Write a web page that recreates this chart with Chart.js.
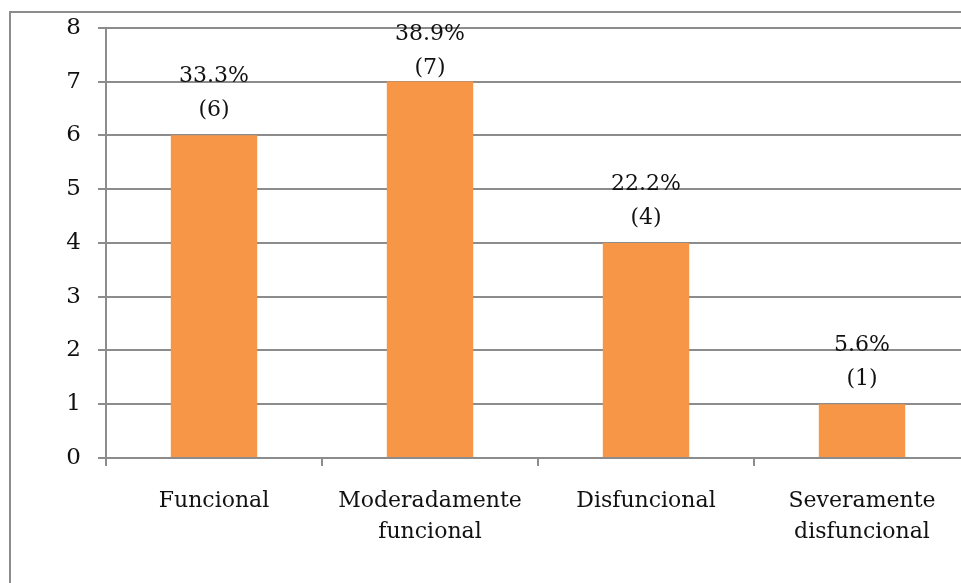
<!DOCTYPE html>
<html>
<head>
<meta charset="utf-8">
<script src="https://cdn.jsdelivr.net/npm/chart.js@4"></script>
<style>
  html, body { margin: 0; padding: 0; background: #fff; overflow: hidden; }
  #frame {
    position: absolute; left: 9px; top: 11px;
    width: 1000px; height: 620px;
    border: 2px solid #8c8c8c;
  }
  #wrap { position: absolute; left: 0; top: -3px; width: 1000px; height: 586px; }
</style>
</head>
<body>
<div id="frame"></div>
<div id="wrap"><canvas id="chart"></canvas></div>
<script>
// datos del gráfico
const categories = [['Funcional'], ['Moderadamente', 'funcional'], ['Disfuncional'], ['Severamente', 'disfuncional']];
const counts = [6, 7, 4, 1];
const percents = ['33.3%', '38.9%', '22.2%', '5.6%'];
const yTicks = [0, 1, 2, 3, 4, 5, 6, 7, 8];

const FONT = '"DejaVu Serif", "Liberation Serif", serif';

// etiquetas encima de cada barra: porcentaje y (n)
const barLabels = {
  id: 'barLabels',
  afterDatasetsDraw(chart) {
    const ctx = chart.ctx;
    const meta = chart.getDatasetMeta(0);
    ctx.save();
    ctx.fillStyle = '#111';
    ctx.font = '22px ' + FONT;
    ctx.textAlign = 'center';
    ctx.textBaseline = 'middle';
    meta.data.forEach(function(bar, i) {
      const pctY = Math.max(bar.y - 59, 37);
      ctx.fillText(percents[i], bar.x, pctY);
      ctx.fillText('(' + counts[i] + ')', bar.x, pctY + 34);
    });
    ctx.restore();
  }
};

new Chart(document.getElementById('chart'), {
  type: 'bar',
  data: {
    labels: categories,
    datasets: [{
      data: counts,
      backgroundColor: '#F79646',
      borderWidth: 0,
      barPercentage: 0.4,
      categoryPercentage: 1.0
    }]
  },
  options: {
    responsive: true,
    maintainAspectRatio: false,
    animation: false,
    layout: { padding: { top: 22, right: 30, left: 0, bottom: 0 } },
    plugins: { legend: { display: false }, tooltip: { enabled: false } },
    scales: {
      x: {
        grid: {
          offset: true,
          drawOnChartArea: false,
          color: '#8c8c8c',
          lineWidth: 2,
          tickLength: 8
        },
        border: { color: '#8c8c8c', width: 2 },
        ticks: {
          color: '#111',
          font: { family: FONT, size: 22, lineHeight: 1.4 },
          padding: 20,
          maxRotation: 0,
          autoSkip: false
        },
        afterFit(scale) { scale.height = 125; }
      },
      y: {
        min: 0,
        max: 8,
        afterBuildTicks(scale) { scale.ticks = yTicks.map(v => ({ value: v })); },
        grid: {
          color: '#8c8c8c',
          lineWidth: 2,
          tickLength: 8
        },
        border: { color: '#8c8c8c', width: 2 },
        ticks: {
          color: '#111',
          font: { family: FONT, size: 23 },
          padding: 17
        },
        afterFit(scale) { scale.width = 106; }
      }
    }
  },
  plugins: [barLabels]
});
</script>
</body>
</html>
